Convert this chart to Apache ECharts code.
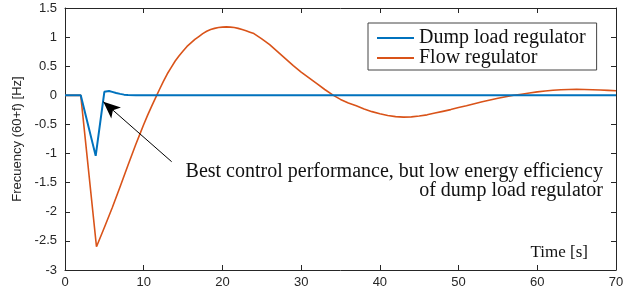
<!DOCTYPE html>
<html>
<head>
<meta charset="utf-8">
<script src="https://cdn.jsdelivr.net/npm/echarts@6/dist/echarts.min.js"></script>
<style>
  html, body { margin: 0; padding: 0; background: #fff; }
  #chart { width: 636px; height: 294px; }
</style>
</head>
<body>
<div id="chart"></div>
<script>
// time axis [s] and frequency deviation [Hz]
var dumpTime = [0, 2, 3.9, 5.0, 5.2, 5.6, 6.0, 6.5, 7.0, 7.5, 8.0, 9.0, 70]
var dumpFreq = [0, 0, -1.04, 0.06, 0.08, 0.075, 0.06, 0.04, 0.025, 0.012, 0.005, 0, 0]

var flowTime = [0, 2, 4, 5, 6, 7, 8, 9, 9.5, 10, 10.5, 11, 11.65, 12, 12.5, 13, 13.5, 14, 14.5, 15, 15.5, 16, 16.5, 17, 17.5, 18, 18.5, 19, 19.5, 20, 20.5, 21, 21.5, 22, 22.5, 23, 23.5, 24, 25, 26, 27, 28, 29, 30, 31, 32, 33, 34.1, 35, 36, 37, 38, 39, 40, 41, 42, 43, 44, 45, 46, 47, 48, 49, 50, 51, 52, 53, 54, 55, 56, 57, 58, 59, 60, 61, 62, 63, 64, 65, 66, 67, 68, 69, 70]
var flowFreq = [0, 0, -2.6, -2.27, -1.93, -1.57, -1.2, -0.84, -0.67, -0.5, -0.34, -0.19, 0, 0.1, 0.24, 0.37, 0.48, 0.59, 0.68, 0.76, 0.84, 0.9, 0.96, 1.01, 1.06, 1.1, 1.13, 1.15, 1.165, 1.172, 1.175, 1.172, 1.165, 1.15, 1.13, 1.11, 1.085, 1.06, 0.97, 0.87, 0.75, 0.63, 0.51, 0.4, 0.3, 0.2, 0.1, 0, -0.07, -0.13, -0.18, -0.235, -0.28, -0.315, -0.345, -0.365, -0.375, -0.37, -0.355, -0.335, -0.305, -0.275, -0.245, -0.21, -0.18, -0.145, -0.11, -0.08, -0.05, -0.025, 0, 0.02, 0.04, 0.06, 0.075, 0.088, 0.097, 0.1, 0.102, 0.1, 0.097, 0.092, 0.086, 0.08]

var seriesNames = ['Dump load regulator', 'Flow regulator']
var yName = 'Frecuency (60+f) [Hz]'
var xName = 'Time [s]'
var noteLine1 = 'Best control performance, but low energy efficiency'
var noteLine2 = 'of dump load regulator'
// arrow from the note to the dump load overshoot, in data units
var arrowFrom = [13.55, -1.14]
var arrowTo = [4.87, -0.11]

function pairs(xs, ys) {
  return xs.map(function (x, i) { return [x, ys[i]] })
}

var axisColor = '#262626'
var serif = 'Liberation Serif'
var chart = echarts.init(document.getElementById('chart'))

chart.setOption({
  animation: false,
  grid: { left: 65, right: 20, top: 8, bottom: 24 },
  legend: {
    data: seriesNames,
    orient: 'vertical',
    left: 368,
    top: 23,
    padding: [5, 11, 2, 9],
    itemGap: 0,
    itemWidth: 37,
    itemHeight: 2,
    icon: 'rect',
    borderColor: '#444',
    borderWidth: 1,
    backgroundColor: '#fff',
    textStyle: { fontFamily: serif, fontSize: 20, lineHeight: 18, color: '#111' }
  },
  xAxis: [
    {
      type: 'value', min: 0, max: 70, interval: 10,
      axisLine: { onZero: false, lineStyle: { color: axisColor } },
      axisTick: { inside: true, length: 5, lineStyle: { color: axisColor } },
      axisLabel: { color: axisColor, fontFamily: 'Liberation Sans', fontSize: 13, margin: 6 },
      splitLine: { show: false }
    },
    {
      type: 'value', position: 'top', min: 0, max: 70, interval: 10,
      axisLine: { onZero: false, lineStyle: { color: axisColor } },
      axisTick: { inside: true, length: 5, lineStyle: { color: axisColor } },
      axisLabel: { show: false },
      splitLine: { show: false }
    }
  ],
  yAxis: [
    {
      type: 'value', min: -3, max: 1.5, interval: 0.5,
      name: yName, nameLocation: 'middle', nameGap: 38,
      nameTextStyle: { fontFamily: 'Liberation Sans', fontSize: 13, color: axisColor },
      axisLine: { show: true, onZero: false, lineStyle: { color: axisColor } },
      axisTick: { show: true, inside: true, length: 5, lineStyle: { color: axisColor } },
      axisLabel: { color: axisColor, fontFamily: 'Liberation Sans', fontSize: 13, margin: 8 },
      splitLine: { show: false }
    },
    {
      type: 'value', position: 'right', min: -3, max: 1.5, interval: 0.5,
      axisLine: { show: true, onZero: false, lineStyle: { color: axisColor } },
      axisTick: { show: true, inside: true, length: 5, lineStyle: { color: axisColor } },
      axisLabel: { show: false },
      splitLine: { show: false }
    }
  ],
  graphic: [
    {
      type: 'text', right: 48, top: 244,
      style: { text: xName, fontFamily: serif, fontSize: 17, fill: '#111' }
    },
    {
      type: 'text', right: 33, top: 162,
      style: { text: noteLine1, fontFamily: serif, fontSize: 20, fill: '#111' }
    },
    {
      type: 'text', right: 33, top: 181,
      style: { text: noteLine2, fontFamily: serif, fontSize: 20, fill: '#111' }
    }
  ],
  series: [
    {
      name: seriesNames[1],
      type: 'line',
      symbol: 'none',
      z: 2,
      data: pairs(flowTime, flowFreq),
      lineStyle: { color: '#D95319', width: 1.6 },
      itemStyle: { color: '#D95319' }
    },
    {
      name: seriesNames[0],
      type: 'line',
      symbol: 'none',
      z: 3,
      data: pairs(dumpTime, dumpFreq),
      lineStyle: { color: '#0072BD', width: 2 },
      itemStyle: { color: '#0072BD' },
      markLine: {
        silent: true,
        symbol: ['none', 'arrow'],
        symbolSize: [11, 17],
        label: { show: false },
        lineStyle: { color: '#000', width: 1, type: 'solid' },
        data: [[{ coord: arrowFrom }, { coord: arrowTo }]]
      }
    }
  ]
})
</script>
</body>
</html>
